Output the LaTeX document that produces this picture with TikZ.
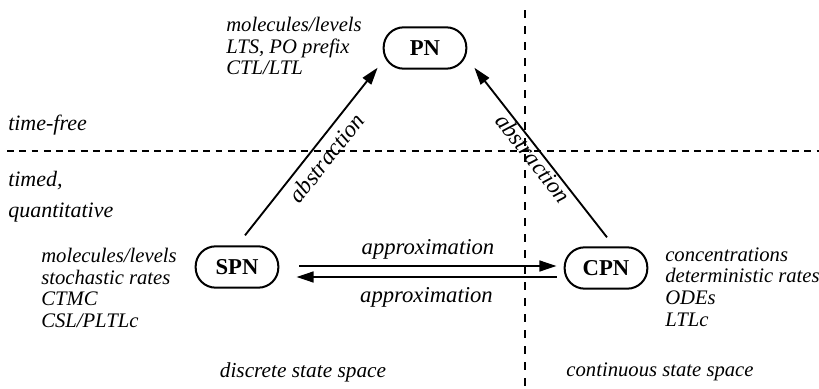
\documentclass[tikz,border=0pt]{standalone}
\usepackage{fontspec}
\setmainfont{Liberation Serif}
\usetikzlibrary{arrows.meta,calc}

\tikzset{
  netbox/.style={draw, line width=1.5pt, rounded corners=15pt, minimum width=62pt,
    minimum height=31pt, inner sep=0pt, font=\fontsize{17}{20}\selectfont\bfseries},
  infotext/.style={anchor=west, align=left, inner sep=0pt,
    font=\fontsize{15.5}{16.2}\selectfont\itshape},
  regiontext/.style={inner sep=0pt, font=\fontsize{16.5}{20}\selectfont\itshape},
  slopetext/.style={inner sep=0pt, font=\fontsize{17.5}{20}\selectfont\itshape},
  approxtext/.style={inner sep=0pt, font=\fontsize{17}{20}\selectfont\itshape},
  approxarrow/.style={line width=2pt, -{Triangle[length=13pt,width=8pt]}},
  abstrarrow/.style={line width=1.4pt, -{Triangle[length=13pt,width=8pt]}},
  divider/.style={line width=2pt}
}

\begin{document}
\begin{tikzpicture}[x=0.75pt,y=-0.75pt]
  \useasboundingbox (0,0) rectangle (819,389);

  % region dividers
  \coordinate (hl) at (7,151);
  \coordinate (hr) at (819,151);
  \coordinate (vt) at (525,10);
  \coordinate (vb) at (525,389);
  \draw[divider, dash pattern=on 5.2pt off 4pt] (hl) -- (hr);
  \draw[divider, dash pattern=on 6pt off 6pt] (vt) -- (vb);

  % the three net classes
  \node[netbox] (PN)  at (425,48)  {PN};
  \node[netbox] (SPN) at (237,267) {SPN};
  \node[netbox] (CPN) at (606,268) {CPN};

  % descriptions next to each net class
  \node[infotext] (pninfo) at (226,46)
    {molecules/levels\\LTS, PO prefix\\CTL/LTL};
  \node[infotext] (spninfo) at (41,288)
    {molecules/levels\\stochastic rates\\CTMC\\CSL/PLTLc};
  \node[infotext] (cpninfo) at (665,287)
    {concentrations\\deterministic rates\\ODEs\\LTLc};

  % region labels
  \node[regiontext, anchor=west] (tf) at (8,125) {time-free};
  \node[regiontext, anchor=west, align=left,
        font=\fontsize{16.5}{23}\selectfont\itshape] (tq) at (8,197)
    {timed,\\quantitative};
  \node[regiontext, font=\fontsize{16}{20}\selectfont\itshape] (dss) at (303,372) {discrete state space};
  \node[regiontext, font=\fontsize{15.5}{20}\selectfont\itshape] (css) at (660,372) {continuous state space};

  % approximation arrows
  \draw[approxarrow] ($(SPN.east)+(20,-1)$) -- node[approxtext, above=4pt] (ap1) {approximation}
    ($(CPN.west)+(-7,-2)$);
  \draw[approxarrow] ($(CPN.west)+(-7,9)$) -- node[approxtext, below=7pt] (ap2) {approximation}
    ($(SPN.east)+(17,10)$);

  % abstraction arrows
  \draw[abstrarrow] ($(SPN.north)+(8,-10)$) -- node[slopetext, sloped, below=5pt, pos=0.52] (ab1) {abstraction}
    ($(PN.south west)+(-5,-2)$);
  \draw[abstrarrow] ($(CPN.north)+(1,-9)$) -- node[slopetext, sloped, below=0pt, pos=0.5] (ab2) {abstraction}
    ($(PN.south east)+(7,-2)$);
\end{tikzpicture}
\end{document}
